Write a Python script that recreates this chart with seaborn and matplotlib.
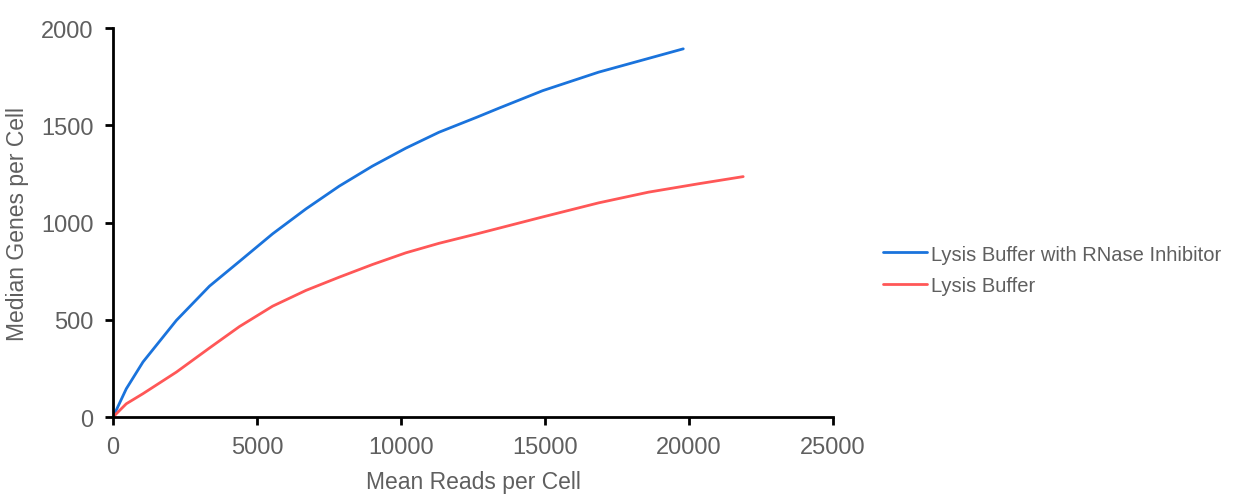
import pandas as pd
import numpy as np
import matplotlib
matplotlib.use("Agg")
import matplotlib.pyplot as plt
import seaborn as sns


# values
inhib_reads = [0, 460, 1040, 2200, 3350, 4389, 5542, 6699, 7853, 9006, 10163, 11316, 12643, 13400, 14920, 16860, 19800]
inhib_genes = [0, 145, 283, 497, 673, 800, 942, 1070, 1187, 1290, 1382, 1464, 1542, 1588, 1678, 1773, 1893]

plain_reads = [0, 460, 1040, 2200, 3350, 4389, 5542, 6699, 7853, 9006, 10163, 11316, 12643, 14900, 16860, 18590, 20320, 21880]
plain_genes = [0, 68, 120, 231, 355, 465, 570, 651, 719, 784, 844, 893, 942, 1028, 1101, 1156, 1199, 1236]

series_names = ["Lysis Buffer with RNase Inhibitor", "Lysis Buffer"]
series_colors = ["#1a73dc", "#ff5757"]

x_ticks = [0, 5000, 10000, 15000, 20000, 25000]
y_ticks = [0, 500, 1000, 1500, 2000]

df = pd.concat([
    pd.DataFrame({"reads": inhib_reads, "genes": inhib_genes, "buffer": series_names[0]}),
    pd.DataFrame({"reads": plain_reads, "genes": plain_genes, "buffer": series_names[1]}),
])

sns.set_theme(style="ticks")
plt.rcParams["font.family"] = ["Liberation Sans", "DejaVu Sans"]

fig = plt.figure(figsize=(12.38, 5.02), dpi=100)
ax = fig.add_axes([0.0913, 0.1673, 0.5816, 0.7749])

sns.lineplot(data=df, x="reads", y="genes", hue="buffer", hue_order=series_names,
             palette=series_colors, linewidth=2.0, sort=False, estimator=None,
             solid_joinstyle="round", solid_capstyle="round", ax=ax)

ax.set_xlim(0, 25000)
ax.set_ylim(0, 2000)
ax.set_xticks(x_ticks)
ax.set_yticks(y_ticks)

grey = "#5f5f5f"
sns.despine(ax=ax)
for side in ["left", "bottom"]:
    ax.spines[side].set_linewidth(2.0)
    ax.spines[side].set_color("black")
ax.tick_params(axis="both", direction="out", length=6, width=2.0, color="black",
               labelsize=17, labelcolor=grey, pad=8)

ax.set_xlabel("Mean Reads per Cell", fontsize=16.5, color=grey)
ax.set_ylabel("Median Genes per Cell", fontsize=16.5, color=grey)
ax.xaxis.set_label_coords(0.5, -0.135)
ax.yaxis.set_label_coords(-0.117, 0.5)

handles, labels = ax.get_legend_handles_labels()
ax.legend(handles, labels, loc="center left", bbox_to_anchor=(0.7132, 0.461),
          bbox_transform=fig.transFigure, frameon=False, fontsize=14.5,
          handlelength=2.2, handletextpad=0.2, labelspacing=0.6,
          borderpad=0, borderaxespad=0, labelcolor=grey)

fig.savefig("out.png", dpi=100)
